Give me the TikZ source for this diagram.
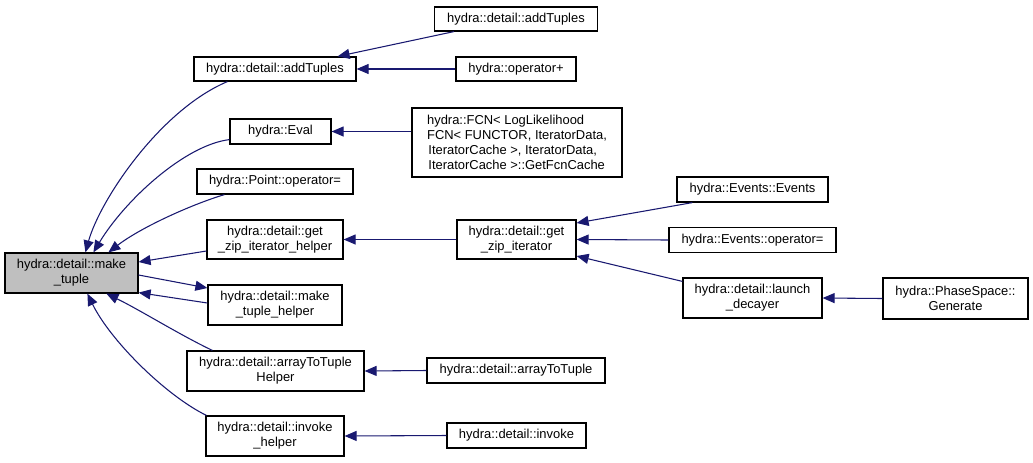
\documentclass[tikz,border=0pt]{standalone}
\usepackage{fontspec}
\setmainfont{Liberation Sans}
\usetikzlibrary{arrows.meta,calc}
\definecolor{edgeblue}{HTML}{191970}
\definecolor{fillgray}{HTML}{BFBFBF}
\begin{document}
\begin{tikzpicture}[x=0.75pt,y=-0.75pt,
  box/.style={draw=black, line width=0.9pt, rectangle, inner sep=0pt, align=center,
              font=\fontsize{9.7}{11.25}\selectfont},
  sz/.style 2 args={minimum width={#1*0.75pt}, minimum height={#2*0.75pt}},
  edge/.style={draw=edgeblue, line width=0.8pt, -{Triangle[length=9pt,width=7.5pt]}}]
\useasboundingbox (0,0) rectangle (1033,462);
% rank 1
\node[box, sz={133}{40}, fill=fillgray] (mt) at (71.5,273) {hydra::detail::make\\\_tuple};
% rank 2
\node[box, sz={162}{24}] (addm) at (275,69) {hydra::detail::addTuples};
\node[box, sz={101}{25}] (eval) at (280.5,131.5) {hydra::Eval};
\node[box, sz={156}{25}] (point) at (275,181.5) {hydra::Point::operator=};
\node[box, sz={136}{39}] (gzih) at (275,239.5) {hydra::detail::get\\\_zip\_iterator\_helper};
\node[box, sz={134}{40}] (mth) at (275,305) {hydra::detail::make\\\_tuple\_helper};
\node[box, sz={177}{40}] (atth) at (275.5,371) {hydra::detail::arrayToTuple\\Helper};
\node[box, sz={138}{40}] (invh) at (275,436) {hydra::detail::invoke\\\_helper};
% rank 3
\node[box, sz={163}{24}] (addt) at (516,19) {hydra::detail::addTuples};
\node[box, sz={120}{24}] (opplus) at (516,69) {hydra::operator+};
\node[box, sz={210}{69}, align=left] (fcn) at (517,142.5) {hydra::FCN< LogLikelihood\\FCN< FUNCTOR, IteratorData,\\\hspace*{1pt}IteratorCache >, IteratorData,\\\hspace*{1pt}IteratorCache >::GetFcnCache};
\node[box, sz={119}{39}] (gzi) at (516.5,239.5) {hydra::detail::get\\\_zip\_iterator};
\node[box, sz={178}{25}] (att) at (516,370.5) {hydra::detail::arrayToTuple};
\node[box, sz={139}{25}] (inv) at (516.5,435.5) {hydra::detail::invoke};
% rank 4
\node[box, sz={151}{25}] (ev) at (752.5,189.5) {hydra::Events::Events};
\node[box, sz={167}{25}] (evop) at (752.5,240) {hydra::Events::operator=};
\node[box, sz={139}{40}] (ld) at (752.5,298) {hydra::detail::launch\\\_decayer};
% rank 5
\node[box, sz={145}{41}] (gen) at (955.5,298.5) {hydra::PhaseSpace::\\Generate};
% edges into make_tuple
\draw[edge] ([shift={(34,0)}]addm.south west) .. controls (160,110) and (100,200) .. ([shift={(81,0)}]mt.north west);
\draw[edge] ([shift={(0,-5)}]eval.south west) .. controls (185,145) and (125,200) .. ([shift={(89,0)}]mt.north west);
\draw[edge] ([shift={(28,0)}]point.south west) .. controls (190,205) and (140,228) .. ([shift={(104,0)}]mt.north west);
\draw[edge] ([shift={(0,11.5)}]gzih.west) -- ([shift={(0,-11)}]mt.east);
\draw[edge] ([shift={(0,2)}]mt.east) -- ([shift={(0,-17)}]mth.west);
\draw[edge] ([shift={(0,-2)}]mth.west) -- ([shift={(0,-1)}]mt.south east);
\draw[edge] ([shift={(26,0)}]atth.north west) .. controls (180,335) and (140,310) .. ([shift={(102,0)}]mt.south west);
\draw[edge] ([shift={(1,0)}]invh.north west) .. controls (165,395) and (110,340) .. ([shift={(83,0)}]mt.south west);
% other edges
\draw[edge] ([shift={(20,0)}]addt.south west) -- ([shift={(-19,0)}]addm.north east);
\draw[edge] (opplus.west) -- (addm.east);
\draw[edge] (fcn.west |- eval.east) -- (eval.east);
\draw[edge] (gzi.west) -- (gzih.east);
\draw[edge] ([shift={(16,0)}]ev.south west) -- ([shift={(0,-16.5)}]gzi.east);
\draw[edge] (evop.west) -- (gzi.east);
\draw[edge] ([shift={(0,4)}]ld.north west) -- ([shift={(0,16.5)}]gzi.east);
\draw[edge] (gen.west) -- (ld.east);
\draw[edge] (att.west) -- (atth.east);
\draw[edge] (inv.west) -- (invh.east);
\end{tikzpicture}
\end{document}
